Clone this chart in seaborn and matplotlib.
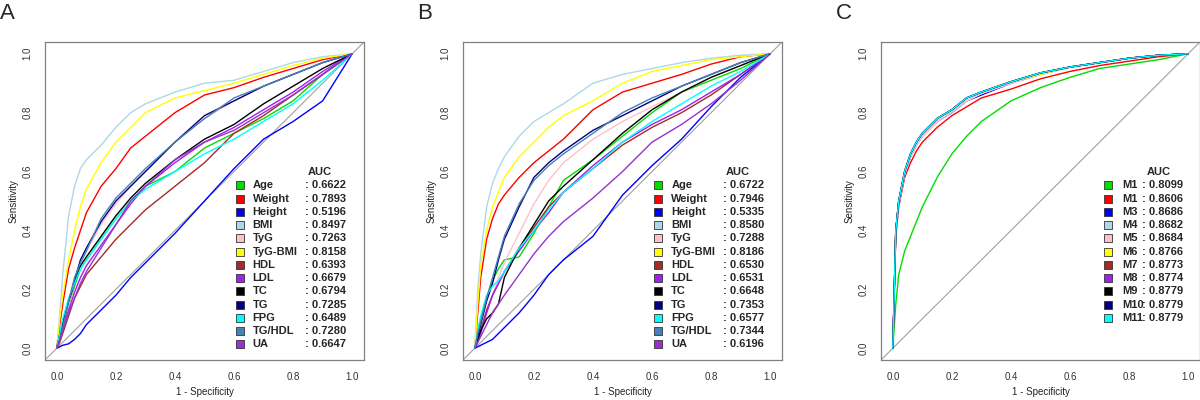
import numpy as np
import pandas as pd
import seaborn as sns
import matplotlib.pyplot as plt

# shared 1-specificity grid the curves were read on
fpr = [0, .01, .02, .04, .06, .08, .1, .15, .2, .25, .3, .4, .5, .6, .7, .8, .9, 1]

names_ab = ["Age", "Weight", "Height", "BMI", "TyG", "TyG-BMI", "HDL",
            "LDL", "TC", "TG", "FPG", "TG/HDL", "UA"]
colors_ab = ["#00dd00", "#ff0000", "#0000ff", "#add8e6", "#ffc0cb", "#ffff00",
             "#a52a2a", "#a020f0", "#000000", "#000080", "#00ffff", "#4682b4",
             "#9932cc"]
auc_a = [0.6622, 0.7893, 0.5196, 0.8497, 0.7263, 0.8158, 0.6393,
         0.6679, 0.6794, 0.7285, 0.6489, 0.7280, 0.6647]
auc_b = [0.6722, 0.7946, 0.5335, 0.8580, 0.7288, 0.8186, 0.6530,
         0.6531, 0.6648, 0.7353, 0.6577, 0.7344, 0.6196]

sens_a = [
    [0, .04, .08, .15, .21, .27, .30, .37, .44, .50, .55, .60, .68, .73, .78, .84, .93, 1],   # Age
    [0, .08, .15, .27, .34, .40, .46, .55, .61, .68, .72, .80, .86, .885, .92, .95, .98, 1],  # Weight
    [0, .005, .01, .015, .03, .05, .08, .13, .18, .24, .29, .39, .50, .61, .71, .77, .84, 1], # Height
    [0, .12, .25, .45, .55, .61, .64, .69, .75, .80, .83, .87, .90, .91, .94, .97, .99, 1],   # BMI
    [0, .03, .07, .15, .22, .29, .33, .42, .49, .55, .60, .70, .78, .84, .89, .93, .97, 1],   # TyG
    [0, .10, .18, .30, .40, .48, .54, .63, .70, .75, .80, .85, .875, .90, .93, .96, .985, 1], # TyG-BMI
    [0, .02, .05, .11, .17, .21, .25, .31, .37, .42, .47, .55, .63, .73, .79, .86, .93, 1],   # HDL
    [0, .04, .07, .13, .19, .24, .28, .35, .42, .49, .55, .63, .70, .75, .81, .87, .94, 1],   # LDL
    [0, .05, .09, .16, .22, .28, .31, .38, .45, .51, .56, .64, .71, .76, .83, .89, .95, 1],   # TC
    [0, .04, .08, .16, .23, .30, .34, .43, .50, .55, .60, .70, .79, .84, .89, .93, .97, 1],   # TG
    [0, .05, .10, .17, .22, .27, .30, .37, .44, .50, .54, .60, .66, .71, .77, .83, .91, 1],   # FPG
    [0, .03, .07, .16, .24, .29, .33, .44, .51, .56, .61, .70, .78, .85, .89, .93, .97, 1],   # TG/HDL
    [0, .03, .06, .12, .17, .22, .26, .34, .42, .50, .55, .64, .70, .74, .80, .86, .93, 1],   # UA
]

sens_b = [
    [0, .06, .10, .17, .23, .27, .30, .31, .39, .48, .57, .64, .72, .80, .87, .91, .95, 1],   # Age
    [0, .12, .24, .37, .44, .49, .52, .58, .63, .67, .71, .81, .87, .90, .93, .965, .99, 1],  # Weight
    [0, .005, .01, .02, .03, .05, .07, .12, .18, .25, .30, .38, .52, .62, .71, .82, .92, 1],  # Height
    [0, .20, .32, .48, .56, .61, .65, .72, .77, .80, .83, .90, .93, .95, .97, .985, .995, 1], # BMI
    [0, .03, .06, .12, .18, .24, .29, .39, .49, .57, .63, .71, .77, .82, .87, .92, .96, 1],   # TyG
    [0, .15, .28, .40, .48, .53, .58, .65, .70, .75, .79, .84, .90, .94, .96, .98, .99, 1],   # TyG-BMI
    [0, .03, .06, .13, .18, .22, .26, .34, .41, .48, .53, .61, .69, .75, .80, .86, .93, 1],   # HDL
    [0, .02, .05, .12, .18, .22, .26, .33, .40, .46, .53, .62, .70, .76, .81, .87, .93, 1],   # LDL
    [0, .03, .06, .10, .12, .15, .24, .34, .42, .50, .55, .64, .73, .81, .87, .92, .96, 1],   # TC
    [0, .04, .08, .16, .22, .30, .37, .48, .58, .63, .67, .74, .79, .84, .89, .93, .97, 1],   # TG
    [0, .06, .11, .18, .21, .23, .26, .34, .40, .47, .53, .61, .70, .77, .83, .89, .94, 1],   # FPG
    [0, .05, .09, .17, .24, .31, .38, .49, .57, .62, .66, .73, .80, .85, .89, .93, .97, 1],   # TG/HDL
    [0, .02, .04, .08, .12, .15, .18, .25, .32, .38, .43, .51, .60, .70, .76, .83, .91, 1],   # UA
]

names_c = ["M1", "M1", "M3", "M4", "M5", "M6", "M7", "M8", "M9", "M10", "M11"]
colors_c = ["#00dd00", "#ff0000", "#0000ff", "#add8e6", "#ffc0cb", "#ffff00",
            "#a52a2a", "#a020f0", "#000000", "#000080", "#00ffff"]
auc_c = [0.8099, 0.8606, 0.8686, 0.8682, 0.8684, 0.8766, 0.8773,
         0.8774, 0.8779, 0.8779, 0.8779]

sens_c = [
    [0, .15, .25, .33, .38, .43, .48, .58, .66, .72, .77, .84, .885, .92, .95, .965, .98, 1],  # M1
    [0, .38, .48, .58, .63, .67, .70, .75, .79, .82, .85, .88, .915, .94, .96, .975, .99, 1],  # M2
    [0, .39, .49, .59, .65, .69, .72, .77, .80, .84, .86, .90, .93, .955, .97, .985, .995, 1], # M3
    [0, .39, .49, .59, .65, .69, .72, .77, .80, .84, .865, .90, .93, .955, .97, .985, .995, 1],
    [0, .39, .49, .59, .65, .69, .72, .77, .805, .84, .865, .90, .93, .955, .97, .985, .995, 1],
    [0, .40, .50, .60, .66, .70, .73, .78, .81, .85, .87, .905, .93, .955, .97, .985, .995, 1],
    [0, .40, .50, .60, .66, .70, .73, .78, .81, .85, .87, .905, .935, .955, .97, .985, .995, 1],
    [0, .40, .50, .60, .66, .70, .73, .78, .81, .85, .87, .905, .935, .955, .97, .985, .995, 1],
    [0, .40, .50, .60, .66, .70, .73, .78, .81, .85, .87, .905, .935, .955, .97, .985, .995, 1],
    [0, .40, .50, .60, .66, .70, .73, .78, .81, .85, .87, .905, .935, .955, .97, .985, .995, 1],
    [0, .40, .50, .60, .66, .70, .73, .78, .81, .85, .87, .905, .935, .955, .97, .985, .995, 1],  # M11
]


def to_long(names, sens):
    rows = []
    for i, (nm, s) in enumerate(zip(names, sens)):
        for x, y in zip(fpr, s):
            rows.append({"curve": i, "name": nm, "fpr": x, "sens": y})
    return pd.DataFrame(rows)


def roc_panel(ax, names, colors, aucs, sens, leg_x):
    df = to_long(names, sens)
    pal = {i: c for i, c in enumerate(colors)}
    ax.axline((0, 0), (1, 1), color="#a0a0a0", lw=0.8, zorder=1)
    sns.lineplot(data=df, x="fpr", y="sens", hue="curve", palette=pal,
                 estimator=None, sort=False, legend=False, lw=1.0, ax=ax)
    ax.set_xlim(-0.04, 1.04)
    ax.set_ylim(-0.04, 1.04)
    ticks = [0, 0.2, 0.4, 0.6, 0.8, 1.0]
    ax.set_xticks(ticks)
    ax.set_yticks(ticks)
    ax.set_xticklabels([f"{t:.1f}" for t in ticks])
    ax.set_yticklabels([f"{t:.1f}" for t in ticks], rotation=90, va="center")
    ax.tick_params(length=4, width=0.8, color="#808080", labelsize=7,
                   labelcolor="#333333", pad=5)
    for sp in ax.spines.values():
        sp.set_color("#808080")
        sp.set_linewidth(0.9)
    ax.set_xlabel("1 - Specificity", fontsize=7, color="#222222", labelpad=3)
    ax.set_ylabel("Sensitivity", fontsize=7, color="#222222", labelpad=3)

    # legend in R style: filled squares, names and AUC column
    sq, nm_x, val_x, head_x = leg_x
    y0, dy = 0.553, 0.045
    ax.text(head_x, y0 + dy, "AUC", ha="center", va="center",
            fontsize=8, fontweight="bold")
    for i, (nm, c, a) in enumerate(zip(names, colors, aucs)):
        y = y0 - i * dy
        ax.scatter([sq], [y], marker="s", s=30, color=c,
                   edgecolor="#333333", linewidth=0.6, zorder=5)
        ax.text(nm_x, y, nm, ha="left", va="center", fontsize=8, fontweight="bold")
        ax.text(val_x, y, f": {a:.4f}", ha="left", va="center",
                fontsize=8, fontweight="bold")


sns.set_theme(style="white")
plt.rcParams["font.family"] = ["Liberation Sans", "DejaVu Sans"]

fig = plt.figure(figsize=(12, 4), dpi=100)
ax_a = fig.add_axes([45 / 1200, 1 - 360 / 400, 319 / 1200, 318 / 400])
ax_b = fig.add_axes([463 / 1200, 1 - 360 / 400, 319 / 1200, 318 / 400])
ax_c = fig.add_axes([881 / 1200, 1 - 360 / 400, 319 / 1200, 318 / 400])

roc_panel(ax_a, names_ab, colors_ab, auc_a, sens_a, (0.62, 0.663, 0.84, 0.89))
roc_panel(ax_b, names_ab, colors_ab, auc_b, sens_b, (0.62, 0.665, 0.84, 0.89))
roc_panel(ax_c, names_c, colors_c, auc_c, sens_c, (0.73, 0.776, 0.845, 0.90))

for lbl, x in [("A", 0 / 1200), ("B", 417 / 1200), ("C", 836 / 1200)]:
    fig.text(x, 1 - 3 / 400, lbl, ha="left", va="top", fontsize=16)

fig.savefig("out.png", dpi=100)
